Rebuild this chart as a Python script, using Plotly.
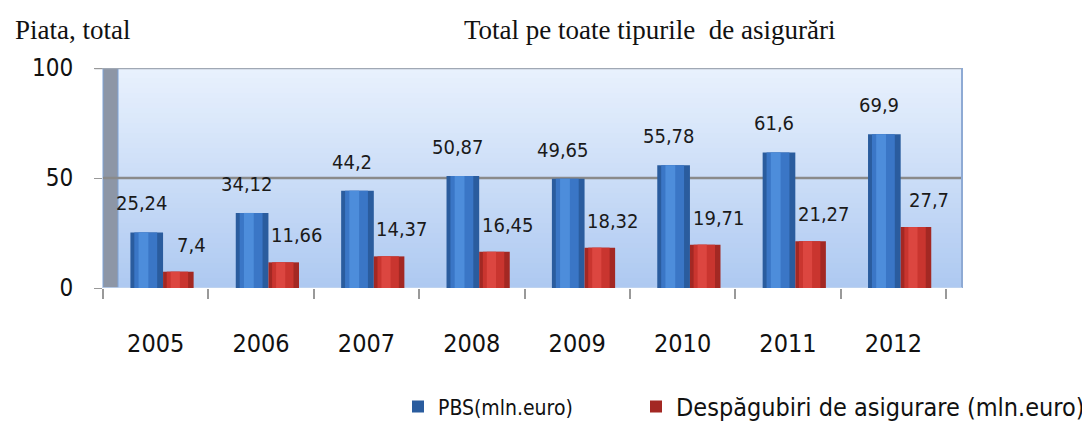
import plotly.graph_objects as go

years = ["2005", "2006", "2007", "2008", "2009", "2010", "2011", "2012"]
pbs = [25.24, 34.12, 44.2, 50.87, 49.65, 55.78, 61.6, 69.9]
despagubiri = [7.4, 11.66, 14.37, 16.45, 18.32, 19.71, 21.27, 27.7]
y_ticks = [0, 50, 100]
name_pbs = "PBS(mln.euro)"
name_desp = "Despăgubiri de asigurare (mln.euro)"
title_left = "Piata, total"
title_right = "Total pe toate tipurile  de asigurări"

COND = "DejaVu Sans Condensed, Liberation Sans Narrow, DejaVu Sans, sans-serif"
SERIF = "Liberation Serif, Times New Roman, serif"

def fmt(v):
    return ("%g" % v).replace(".", ",")

fig = go.Figure()

def cyl(vals, name, dark, mid, light, off, w, legend):
    fig.add_trace(go.Bar(x=years, y=vals, name=name, marker=dict(color=dark, line=dict(width=0)),
                         offset=off, width=w, legend=legend, showlegend=True, hoverinfo="skip"))
    fig.add_trace(go.Bar(x=years, y=vals, marker=dict(color=mid, line=dict(width=0)),
                         offset=off + 0.12 * w, width=0.7 * w, showlegend=False, hoverinfo="skip"))
    fig.add_trace(go.Bar(x=years, y=vals, marker=dict(color=light, line=dict(width=0)),
                         offset=off + 0.25 * w, width=0.3 * w, showlegend=False, hoverinfo="skip"))

cyl(pbs, name_pbs, "#2a5c9e", "#3a76c6", "#4d8ddb", -0.24, 0.31, "legend")
cyl(despagubiri, name_desp, "#a32823", "#c9352f", "#dc4640", 0.07, 0.29, "legend2")

# data labels (category index positions)
for i, yr in enumerate(years):
    fig.add_annotation(x=i, y=pbs[i], text=fmt(pbs[i]), showarrow=False, xshift=-14, yshift=29,
                       font=dict(family=COND, size=20, color="#1a1a1a"))
    fig.add_annotation(x=i, y=despagubiri[i], text=fmt(despagubiri[i]), showarrow=False, xshift=36, yshift=27,
                       font=dict(family=COND, size=20, color="#1a1a1a"))

# titles
fig.add_annotation(xref="paper", yref="paper", x=(5 - 95) / 859, y=1.172, xanchor="left", yanchor="middle",
                   text=title_left, showarrow=False, font=dict(family=SERIF, size=27, color="#111"))
fig.add_annotation(xref="paper", yref="paper", x=(641 - 95) / 859, y=1.172, xanchor="center", yanchor="middle",
                   text=title_right, showarrow=False, font=dict(family=SERIF, size=27, color="#111"))

shapes = []
n = 44
x0p = 15 / 859
top = (232, 241, 253)
bot = (174, 201, 241)
for k in range(n):
    t = k / (n - 1)
    c = tuple(int(round(top[j] + (bot[j] - top[j]) * t)) for j in range(3))
    shapes.append(dict(type="rect", xref="paper", yref="y", x0=x0p, x1=1,
                       y0=100 - 100 * k / n, y1=100 - 100 * (k + 1) / n,
                       fillcolor="rgb(%d,%d,%d)" % c, line=dict(width=0), layer="below"))
shapes.append(dict(type="rect", xref="paper", yref="y", x0=0, x1=x0p, y0=0, y1=100,
                   fillcolor="#8d96a6", line=dict(color="#7fa3d6", width=1), layer="below"))
shapes.append(dict(type="line", xref="paper", yref="y", x0=0, x1=1, y0=50, y1=50,
                   line=dict(color="#8a8a8a", width=2.5), layer="below"))
shapes.append(dict(type="line", xref="paper", yref="y", x0=-0.01, x1=1, y0=100, y1=100,
                   line=dict(color="#a0a8b4", width=2.5), layer="below"))
shapes.append(dict(type="line", xref="paper", yref="y", x0=1, x1=1, y0=0, y1=100,
                   line=dict(color="#8eaad4", width=2), layer="below"))
shapes.append(dict(type="line", xref="paper", yref="y", x0=0, x1=1, y0=0, y1=0,
                   line=dict(color="#c2d4ee", width=1.5), layer="below"))

# the page body adds an 8px offset, so the figure is 8px smaller and shifted margins
fig.update_layout(
    width=1082, height=413,
    margin=dict(l=95, r=128, t=60, b=133, autoexpand=False),
    paper_bgcolor="white", plot_bgcolor="rgba(0,0,0,0)",
    barmode="overlay",
    shapes=shapes,
    showlegend=True,
    legend=dict(orientation="h", x=(398 - 103) / 859, y=-0.54, xanchor="left", yanchor="middle",
                font=dict(family=COND, size=21, color="#111"), bgcolor="rgba(0,0,0,0)"),
    legend2=dict(orientation="h", x=(636 - 103) / 859, y=-0.54, xanchor="left", yanchor="middle",
                 font=dict(family=COND, size=25, color="#111"), bgcolor="rgba(0,0,0,0)"),
    xaxis=dict(type="category", range=[-0.5, 7.5 + 16 / 105.4], tickson="boundaries",
               ticks="outside", ticklen=10, tickcolor="#999", tickwidth=1.5,
               showline=False, showgrid=False, zeroline=False,
               ticklabelstandoff=38, tickfont=dict(family=COND, size=25, color="#111")),
    yaxis=dict(range=[0, 100], tickvals=y_ticks, ticks="outside", ticklen=8, tickcolor="#999",
               showgrid=False, zeroline=False, showline=False, ticklabelstandoff=16,
               tickfont=dict(family=COND, size=24, color="#111")),
)

fig.write_html("out.html")
